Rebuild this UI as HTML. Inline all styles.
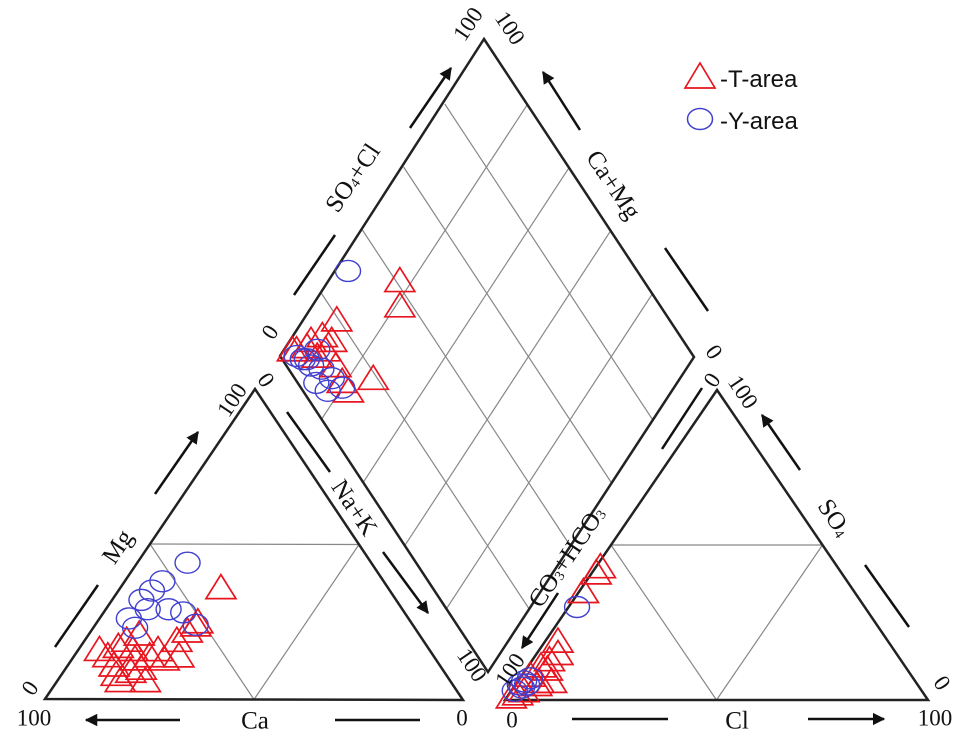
<!DOCTYPE html>
<html><head><meta charset="utf-8"><style>
html,body{margin:0;padding:0;background:#fff;}
svg{display:block;}
text{font-family:"Liberation Serif",serif;fill:#111;}
</style></head><body>
<svg id="chart" width="969" height="745" viewBox="0 0 969 745" xmlns="http://www.w3.org/2000/svg">
<defs><marker id="ah" viewBox="0 0 10 10" refX="9" refY="5" markerWidth="5" markerHeight="5" orient="auto"><path d="M0,0 L10,5 L0,10 z" fill="#111"/></marker></defs>
<g id="frame"></g><g id="marks"></g><g id="labels"></g>
<g>
<polygon points="685,88 700,63 715,88" fill="none" stroke="#e8141e" stroke-width="1.7"/>
<text x="720" y="87" style="font-family:'Liberation Sans',sans-serif;font-size:24px">-T-area</text>
<ellipse cx="700" cy="119" rx="12.5" ry="10.5" fill="none" stroke="#4040d0" stroke-width="1.5"/>
<text x="720" y="129" style="font-family:'Liberation Sans',sans-serif;font-size:24px">-Y-area</text>
</g>
</svg>
<script>
// Cation triangle data (% Mg, % Na+K; Ca = remainder)
const tCatMg = [16,11,8,6,9,13,10,14,19,21,16,19,14,22,24,25,36,17,6,14,13,16];
const tCatNaK = [5,11,13,15,16,15,18,18,10,12,19,22,25,23,24,24,24,9,21,8,22,13];
const yCatMg = [44,38,35,32,29,29,28,24,23,26];
const yCatNaK = [12,9,8,7,10,15,19,24,10,7];
// Anion triangle data (% SO4, % Cl; CO3+HCO3 = remainder)
const tAnSO4 = [41,43,35,19,15,13,10,6,5,3,2,6,8,11,1];
const tAnCl = [1,1,1,3,5,4,5,5,5,3,2,8,2,3,1];
const yAnSO4 = [30,5,6,7,3,4,5];
const yAnCl = [2,1,1.5,2.4,0.8,2,2.7];
// Diamond data (% Ca+Mg, % SO4+Cl)
const tDiaCaMg = [92,93,95,97,90,91,85,81,78,74,83,79,98,95,90];
const tDiaSO4Cl = [19.5,13.5,8,5,12,9,12,11,11,19,41,37,4,10,15];
const yDiaCaMg = [97,94,91,88,87,83,84,96,93,92,80];
const yDiaSO4Cl = [30,5,6,8,4.5,6,9,4,6,10,10];

const NS="http://www.w3.org/2000/svg";
function mk(parent,tag,attrs){const e=document.createElementNS(NS,tag);for(const k in attrs)e.setAttribute(k,attrs[k]);parent.appendChild(e);return e;}
const frame=document.getElementById('frame'),marks=document.getElementById('marks'),labels=document.getElementById('labels');

const LT={bl:[45,699],br:[463,700],t:[255,389]};
const RT={bl:[505,700],br:[928,700],t:[717,390]};
const DT=[484,39],DL=[280,356],DR=[694,357],DB=[488,672];
function tri(T,a,b){const c=1-a/100-b/100;return [c*T.bl[0]+(b/100)*T.br[0]+(a/100)*T.t[0], c*T.bl[1]+(b/100)*T.br[1]+(a/100)*T.t[1]];}
function dia(cm,s){return [DB[0]+cm/100*(DL[0]-DB[0])+s/100*(DR[0]-DB[0]), DB[1]+cm/100*(DL[1]-DB[1])+s/100*(DR[1]-DB[1])];}
function mid(p,q){return [(p[0]+q[0])/2,(p[1]+q[1])/2];}
function line(p,q,name,w,col){const e=mk(frame,'line',{x1:p[0],y1:p[1],x2:q[0],y2:q[1],stroke:col,'stroke-width':w});

return e;}

[[LT,'cation'],[RT,'anion']].forEach(([T,n])=>{
  const a=mid(T.bl,T.t),b=mid(T.t,T.br),c=mid(T.bl,T.br);
  line(a,b,n+'-grid-line','1.2','#888');line(a,c,n+'-grid-line','1.2','#888');line(b,c,n+'-grid-line','1.2','#888');
  const p=mk(frame,'polygon',{points:[T.bl,T.br,T.t].map(v=>v.join(',')).join(' '),fill:'none',stroke:'#222','stroke-width':2.5});
  
  
});
for(const k of [20,40,60,80]){
  line(dia(k,0),dia(k,100),'diamond-grid-line','1.2','#888');
  line(dia(0,k),dia(100,k),'diamond-grid-line','1.2','#888');
}
const dp=mk(frame,'polygon',{points:[DT,DR,DB,DL].map(v=>v.join(',')).join(' '),fill:'none',stroke:'#222','stroke-width':2.5});



function triMark(p,name){const e=mk(marks,'polygon',{points:`${p[0]-15},${p[1]+11} ${p[0]},${p[1]-13} ${p[0]+15},${p[1]+11}`,fill:'none',stroke:'#e8141e','stroke-width':1.7});

}
function cirMark(p,name){const e=mk(marks,'ellipse',{cx:p[0],cy:p[1],rx:12.5,ry:10.5,fill:'none',stroke:'#4040d0','stroke-width':1.4});

}
tCatMg.forEach((v,i)=>triMark(tri(LT,v,tCatNaK[i]),'t-area-cation-point'));
tAnSO4.forEach((v,i)=>triMark(tri(RT,v,tAnCl[i]),'t-area-anion-point'));
tDiaCaMg.forEach((v,i)=>triMark(dia(v,tDiaSO4Cl[i]),'t-area-diamond-point'));
yCatMg.forEach((v,i)=>cirMark(tri(LT,v,yCatNaK[i]),'y-area-cation-point'));
yAnSO4.forEach((v,i)=>cirMark(tri(RT,v,yAnCl[i]),'y-area-anion-point'));
yDiaCaMg.forEach((v,i)=>cirMark(dia(v,yDiaSO4Cl[i]),'y-area-diamond-point'));

function txt(s,x,y,rot,size,name){const e=mk(labels,'text',{x:x,y:y,'text-anchor':'middle','dominant-baseline':'central','font-size':size,transform:`rotate(${rot} ${x} ${y})`});e.innerHTML=s;

}
function seg(x1,y1,x2,y2,arrow,name){const e=mk(labels,'line',{x1,y1,x2,y2,stroke:'#111','stroke-width':2.5});if(arrow)e.setAttribute('marker-end','url(#ah)');

}
const F=23,FT=25;
txt('100',34,718,0,F,'tick-ca-100');txt('0',462,718,0,F,'tick-ca-0');txt('Ca',255,721,0,FT,'ca-axis-title');
seg(180,720,86,720,true,'ca-arrow');seg(335,720,420,720,false,'ca-line');
txt('0',30,688,-56,F,'tick-mg-0');txt('100',232,400,-56,F,'tick-mg-100');txt('Mg',118,547,-56,FT,'mg-axis-title');
seg(55,647,98,585,false,'mg-line');seg(155,494,198,432,true,'mg-arrow');
txt('0',266,380,56,F,'tick-nak-0');txt('100',472,665,56,F,'tick-nak-100');txt('Na+K',354,508,56,FT,'nak-axis-title');
seg(287,412,330,472,false,'nak-line');seg(383,552,428,613,true,'nak-arrow');
txt('0',512,720,0,F,'tick-cl-0');txt('Cl',737,721,0,FT,'cl-axis-title');txt('100',935,718,0,F,'tick-cl-100');
seg(572,719,668,719,false,'cl-line');seg(808,719,884,719,true,'cl-arrow');
txt('0',712,380,-56,F,'tick-co3-0');txt('100',510,670,-56,F,'tick-co3-100');
txt('CO<tspan font-size="14" dy="5">3</tspan><tspan dy="-5">+HCO</tspan><tspan font-size="14" dy="5">3</tspan>',567,557,-56,FT,'co3-hco3-axis-title');
seg(702,388,662,449,false,'co3-line');seg(558,593,522,648,true,'co3-arrow');
txt('100',743,392,56,F,'tick-so4-100');txt('0',942,683,56,F,'tick-so4-0');
txt('SO<tspan font-size="14" dy="5">4</tspan>',834,518,56,FT,'so4-axis-title');
seg(800,470,762,415,true,'so4-arrow');seg(865,565,909,627,false,'so4-line');
txt('100',468,24,-56,F,'tick-so4cl-100');txt('100',510,28,56,F,'tick-camg-100');
txt('0',270,332,-56,F,'tick-so4cl-0');txt('0',714,352,56,F,'tick-camg-0');
txt('SO<tspan font-size="14" dy="5">4</tspan><tspan dy="-5">+Cl</tspan>',353,178,-56,FT,'so4-cl-axis-title');
seg(410,128,451,68,true,'so4cl-arrow');seg(294,295,335,235,false,'so4cl-line');
txt('Ca+Mg',613,185,56,FT,'ca-mg-axis-title');
seg(580,130,543,72,true,'camg-arrow');seg(665,248,708,311,false,'camg-line');
</script>
</body></html>
